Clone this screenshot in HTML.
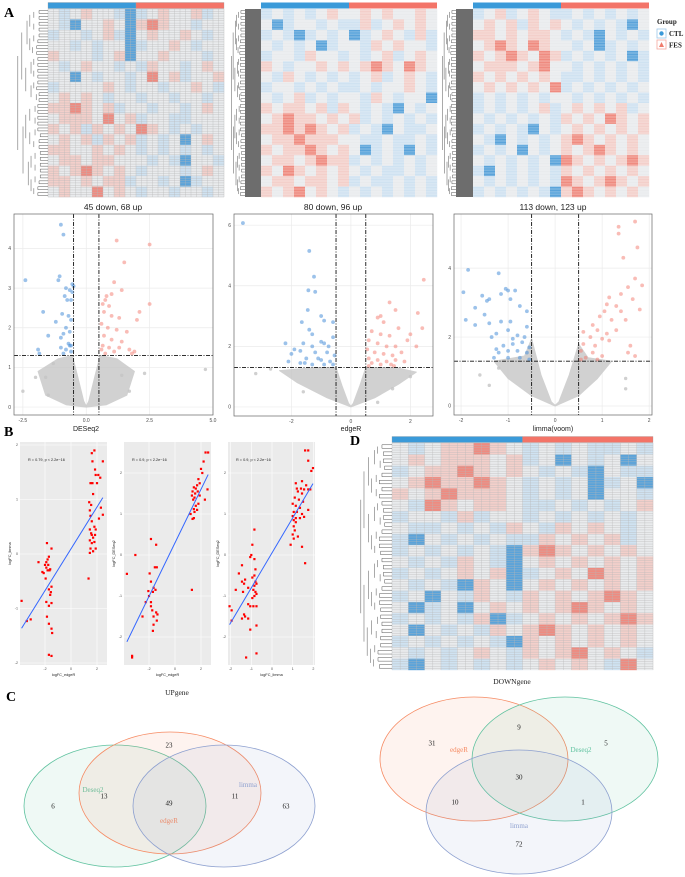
<!DOCTYPE html>
<html><head><meta charset="utf-8"><style>
html,body{margin:0;padding:0;background:#fff}
svg{display:block}
text{font-family:"Liberation Sans",sans-serif}
.serif{font-family:"Liberation Serif",serif}
</style></head><body>
<svg id="fig" width="685" height="877" viewBox="0 0 685 877" xmlns="http://www.w3.org/2000/svg">
<text class="serif" x="4" y="17" font-size="14" font-weight="bold">A</text>
<text class="serif" x="4" y="436" font-size="14" font-weight="bold">B</text>
<text class="serif" x="6" y="701" font-size="14" font-weight="bold">C</text>
<text class="serif" x="350" y="445" font-size="14" font-weight="bold">D</text>
<text x="113" y="210" font-size="8.5" text-anchor="middle" fill="#222">45 down, 68 up</text>
<text x="333" y="210" font-size="8.5" text-anchor="middle" fill="#222">80 down, 96 up</text>
<text x="553" y="210" font-size="8.5" text-anchor="middle" fill="#222">113 down, 123 up</text>
<text x="86" y="431" font-size="7" text-anchor="middle" fill="#222">DESeq2</text>
<text x="351" y="431" font-size="7" text-anchor="middle" fill="#222">edgeR</text>
<text x="553" y="431" font-size="7" text-anchor="middle" fill="#222">limma(voom)</text>
<text class="serif" x="177" y="695" font-size="7.5" text-anchor="middle" fill="#222">UPgene</text>
<text class="serif" x="512" y="684" font-size="7.5" text-anchor="middle" fill="#222">DOWNgene</text>
<g>
<text class="serif" x="657" y="24" font-size="7" font-weight="bold" fill="#222">Group</text>
<rect x="657" y="29" width="9" height="9" fill="#fff" stroke="#9cc8ea" stroke-width="0.8"/>
<circle cx="661.5" cy="33.5" r="2.2" fill="#3a9ad9"/>
<text class="serif" x="669" y="36" font-size="7" font-weight="bold" fill="#222">CTL</text>
<rect x="657" y="40" width="9" height="9" fill="#fff" stroke="#f5a89f" stroke-width="0.8"/>
<polygon points="661.5,42 664,47 659,47" fill="#f07c6c"/>
<text class="serif" x="669" y="47.5" font-size="7" font-weight="bold" fill="#222">FES</text>
</g>
</svg>
<script>
// ===== Heatmap data (coarse colour codes: B strong blue, b light blue, w white, p pink, R red) =====
const hm1Rows = ["wbwpwwbBbwpwwpbw","wbBwwpwBpRpwwbww","bwwbwpbBwpwwpwbw","wwbwbwwBbwwpwbww","pwwwbwpBwwpwwwbw","wbwpwwbwbpwwbwpw","wwBwbwwbwRwpbwwp","bwwwwpwbwwbwwpwb","wpwpwbwwbwwbwwbw","ppRpwpbwwbwwbwpw","wpppwRwpbwwbbwww","pwpbpwpwRpwbwbww","wpwpbpwpbwbwBwpw","ppwwpwpwbwbwbwbw","wppwppwwwbwbBwwb","pwpRpwpwbwwwbwpw","ppwpwppbwwbwBbww","wpwwRwpwbwwbwwbw"];
const hm2Rows = ["bwbwbwpwwpwpwwpw","wBbwwbwbbpbwpwpw","bwbBbwbwBbwpwbpb","wbwbwBbwwbpwpwwb","bwwbpwwbwbwpbwpw","pwbwwpwpwpRpwRpw","wbpwbwbwbwpbwpwb","bwwbwbwbbwbwwpwb","wbwpbwbwwbpwbwwB","pwppwpbpwbwbBwbw","wpRppwpwpbwbwbwb","ppRpRpwpbwbBwbbw","wppRpppwwbbwbbwb","pwppRpwpwBbwbBwb","wppwpRppbwbwbwbw","pwRpwpwpwbwbbwbw","wppwppwpbwbbwbwb","pwpRwpwbwbwbwbwb"];
const hm3Rows = ["bwpbwpwbbwbwbwbw","wpwpbpwpwbwbwbBw","ppwpwppwbwbBwbwb","wpRpwRpwwbwBbwbw","pwpRpwRpbwbwbwBb","wpppwpRwwbwbwbwb","pwpwpwpwbbwbwbwb","wpwpwpwRbwbwbwbw","bwbwbwbwwbwbwbwb","bwbwbwpbwpwpwpbw","wbwbwbwbpwpwRpwp","bwbwbBwbwpwpwpwp","wbBwbwbwpRpwpwpw","bwbwBwbwpwpRpwpw","wbwbwbwBRpwpwpRp","bBwbwbwbpwpwpwpw","wbwbwbwbRpwpRpwp","bwbwbwbBpRpwpwpw"];
const hmDRows = ["wbwppRpwbwbwbbwb","wpwpppwpbwBwbwBw","bwppRpwpwbwbBwbb","wpRppRpwbwbwBbwB","pwpRpppwbwbwBwwb","wbRpwppwbbwbwbwp","bwwbpbwwbwbwbwbw","wbbwbwbpwbpwpwbw","bBwbwbwbbpwpwpbw","bwbwbwbBpRpwpwpw","wbwbpwbBwpwpwpwp","bwbwpwpBbwpwRpwp","wbwbBpwBwpwpwpwp","bwBwbpwbpwpwpRpw","wBbwBwpwpwpRpwpw","bwbwbpBbwpwpwpRp","wBwbwbpwpRpwpwpw","bwbwbwbBpwpwpwpw","wbwbwpwbpwpRwpwb","bBwbwbwbwpwpwbRw"];
const groupSplit = [0.5, 0.5, 0.5, 0.5];

// ===== Volcano data [log2FC, -log10 p] =====
const v1Down = [[-1.0,4.6],[-0.9,4.35],[-2.4,3.2],[-1.05,3.3],[-1.1,3.2],[-0.8,3.0],[-0.65,2.95],[-0.55,3.1],[-0.5,3.05],[-0.55,2.9],[-0.85,2.8],[-0.75,2.7],[-0.6,2.7],[-1.7,2.4],[-0.95,2.35],[-0.7,2.3],[-0.6,2.2],[-1.2,2.15],[-0.8,2.0],[-0.65,1.9],[-1.0,1.75],[-0.7,1.6],[-1.9,1.45],[-1.0,1.5],[-0.8,1.45],[-0.6,1.4],[-0.9,1.35],[-1.85,1.35],[-0.65,1.55],[-1.5,1.8],[-0.9,1.85],[-0.6,1.55]];
const v1Up = [[1.2,4.2],[2.5,4.1],[1.5,3.65],[1.1,3.15],[1.4,2.95],[1.0,2.85],[0.8,2.8],[0.75,2.7],[0.65,2.6],[0.9,2.55],[2.5,2.6],[0.7,2.4],[1.0,2.3],[1.3,2.25],[0.6,2.1],[0.85,2.0],[1.2,1.95],[1.6,1.9],[0.7,1.8],[1.0,1.7],[1.4,1.65],[0.65,1.55],[0.9,1.5],[1.7,1.45],[1.1,1.4],[0.75,1.35],[1.9,1.4],[1.8,1.35],[0.6,1.45],[1.3,1.5],[2.1,2.4],[2.0,2.2]];
const v1Grey = [[-1.9,0.9],[-1.1,1.22],[-0.55,1.3],[-0.35,0.8],[-0.1,0.15],[0,0.02],[0.1,0.15],[0.35,0.8],[0.55,1.3],[1.2,1.22],[1.9,0.9],[1.6,0.3],[0.8,0.06],[0,0],[-0.8,0.06],[-1.6,0.3]];
const v1Out = [[-2.5,0.4],[-1.5,0.3],[1.4,0.8],[2.3,0.85],[4.7,0.95],[-1.3,1.1],[1.7,0.4],[-2.0,0.75],[-1.6,0.75]];
const v2Down = [[-3.63,6.07],[-1.4,5.15],[-1.24,4.3],[-1.43,3.85],[-1.2,3.8],[-1.45,3.2],[-1.0,3.0],[-0.9,2.85],[-0.6,2.8],[-1.65,2.8],[-1.4,2.55],[-1.3,2.4],[-2.2,2.1],[-1.9,1.9],[-1.7,1.85],[-1.0,2.15],[-0.75,2.0],[-0.6,2.3],[-1.6,2.1],[-1.3,2.0],[-0.9,2.1],[-2.0,1.75],[-1.2,1.8],[-0.8,1.8],[-0.55,1.7],[-1.5,1.6],[-1.1,1.6],[-0.7,1.5],[-1.7,1.45],[-1.3,1.4],[-0.9,1.4],[-0.6,1.4],[-2.1,1.5],[-1.0,1.55],[-1.55,1.45]];
const v2Up = [[2.45,4.2],[1.3,3.45],[1.5,3.2],[1.0,3.0],[2.25,3.1],[2.4,2.6],[0.9,2.95],[1.1,2.8],[1.6,2.6],[2.0,2.4],[0.7,2.5],[1.0,2.4],[1.3,2.35],[0.6,2.2],[0.9,2.1],[1.2,2.0],[1.5,2.0],[1.9,2.2],[0.55,1.9],[0.8,1.8],[1.1,1.75],[1.4,1.7],[1.7,1.8],[0.6,1.6],[0.9,1.55],[1.2,1.5],[1.5,1.55],[0.7,1.45],[1.0,1.4],[1.35,1.4],[0.6,1.35],[2.2,2.0],[1.8,1.5],[1.45,1.35]];
const v2Grey = [[-2.4,1.2],[-1.2,1.3],[-0.5,1.3],[-0.3,0.7],[-0.08,0.12],[0,0.02],[0.08,0.12],[0.3,0.7],[0.5,1.3],[1.5,1.3],[2.2,1.15],[1.6,0.75],[0.8,0.3],[0,0],[-0.8,0.3],[-1.8,0.8]];
const v2Out = [[-3.2,1.1],[-2.7,1.25],[1.4,0.6],[2.0,1.0],[-1.6,0.5],[0.9,0.15]];
const v3Down = [[-1.95,3.3],[-1.85,3.95],[-1.9,2.5],[-1.7,2.85],[-1.55,3.2],[-1.45,3.05],[-1.4,3.1],[-1.2,3.85],[-1.15,3.25],[-1.05,3.4],[-1.0,3.35],[-0.85,3.35],[-0.95,3.1],[-0.75,2.9],[-1.5,2.65],[-1.4,2.4],[-1.7,2.35],[-1.15,2.45],[-0.95,2.45],[-0.6,2.75],[-0.6,2.3],[-1.25,2.1],[-1.0,2.2],[-0.8,2.05],[-1.35,2.0],[-1.1,1.75],[-0.9,1.8],[-0.7,1.85],[-0.55,1.7],[-1.2,1.55],[-1.0,1.6],[-0.8,1.6],[-0.6,1.55],[-1.0,1.4],[-0.75,1.4],[-0.55,1.35],[-1.25,1.65],[-0.9,1.95],[-0.65,2.0],[-1.3,1.4]];
const v3Up = [[1.7,5.35],[1.35,5.2],[1.35,5.0],[1.75,4.6],[1.45,4.3],[1.7,3.7],[1.85,3.5],[1.55,3.45],[1.4,3.25],[1.65,3.1],[1.8,2.8],[1.15,3.15],[1.1,2.95],[1.3,2.9],[1.05,2.75],[0.95,2.6],[1.4,2.75],[1.2,2.5],[0.8,2.35],[1.5,2.5],[0.9,2.2],[1.1,2.1],[0.6,2.15],[1.3,2.2],[0.75,2.0],[1.0,1.95],[0.6,1.8],[0.85,1.75],[1.15,1.9],[0.55,1.6],[0.8,1.55],[1.0,1.45],[0.65,1.4],[1.6,1.75],[1.55,1.55],[1.7,1.45],[0.9,1.35],[0.55,1.35]];
const v3Grey = [[-1.3,1.3],[-0.65,1.45],[-0.5,1.95],[-0.3,0.9],[-0.08,0.12],[0,0.02],[0.08,0.12],[0.3,0.9],[0.5,1.8],[0.7,1.4],[1.2,1.3],[0.9,0.8],[0.5,0.3],[0,0],[-0.5,0.3],[-1.0,0.8]];
const v3Out = [[-1.6,0.9],[1.5,0.8],[-1.2,1.1],[1.5,0.5],[-1.4,0.6]];

// ===== Correlation scatter data [x, y] =====
const b1Pts = [[-3.8,-0.86],[-3.4,-1.23],[-3.1,-1.2],[-2.5,-0.15],[-2.2,-0.33],[-2.0,-0.2],[-1.9,-0.25],[-1.8,-0.1],[-1.7,-0.05],[-1.65,-0.3],[-1.8,-0.3],[-1.9,-0.15],[-1.75,-0.2],[-2.1,-0.35],[-1.6,-0.28],[-1.85,0.2],[-1.5,0.1],[-1.95,-0.45],[-1.7,-0.65],[-1.5,-0.6],[-1.9,-0.88],[-1.7,-0.95],[-1.5,-0.9],[-1.85,-1.15],[-1.7,-1.28],[-1.5,-1.37],[-1.45,-1.45],[-1.7,-1.85],[-1.5,-1.87],[-1.6,-0.75],[-1.55,-0.7],[1.6,1.85],[1.8,1.9],[1.65,1.7],[2.45,1.7],[1.85,1.55],[1.9,1.45],[2.1,1.45],[2.25,1.4],[1.5,1.3],[1.65,1.3],[2.0,1.3],[1.7,1.1],[1.4,0.95],[1.55,0.9],[1.45,0.8],[2.3,0.85],[2.45,0.72],[1.5,0.7],[2.15,0.65],[1.6,0.6],[1.8,0.5],[1.9,0.45],[1.45,0.45],[1.55,0.38],[1.7,0.3],[1.45,0.25],[1.6,0.2],[1.8,0.22],[1.5,0.1],[1.7,0.05],[1.9,0.1],[1.45,0.02],[1.35,-0.45],[1.6,0.35],[1.85,0.35]];
const b2Pts = [[-3.7,-0.46],[-3.05,0.0],[-3.3,-2.46],[-2.5,-1.5],[-2.25,-1.15],[-2.05,-0.88],[-1.85,0.39],[-1.45,0.25],[-1.95,-0.45],[-1.55,-0.3],[-1.4,-0.3],[-1.85,-0.65],[-1.65,-0.8],[-1.5,-0.85],[-1.7,-0.9],[-1.85,-1.15],[-1.75,-1.35],[-1.65,-1.5],[-1.45,-1.4],[-1.4,-1.6],[-1.65,-1.7],[-1.7,-1.85],[-1.35,-1.45],[-1.85,-1.25],[-2.0,-1.0],[-3.3,-2.5],[2.35,2.5],[2.55,2.5],[2.2,2.28],[2.0,2.1],[2.1,2.0],[1.8,1.85],[1.9,1.75],[1.7,1.7],[1.6,1.62],[1.45,1.65],[1.75,1.55],[1.35,1.55],[1.55,1.5],[1.9,1.45],[1.5,1.4],[1.4,1.35],[1.8,1.25],[2.3,1.35],[2.5,1.6],[1.3,1.45],[1.6,1.2],[1.45,1.12],[1.7,1.1],[1.5,1.05],[1.35,0.88],[1.45,0.9],[1.3,-0.85],[1.2,1.0]];
const b3Pts = [[-2.05,-1.25],[-1.95,-1.35],[-1.95,-1.6],[-1.75,-0.85],[-1.45,-0.65],[-1.6,-0.45],[-1.45,-0.25],[-1.35,-0.7],[-1.3,-0.6],[-1.4,-0.9],[-1.15,-0.8],[-1.05,-0.05],[-0.95,0.25],[-0.85,0.62],[-1.0,0.0],[-0.85,-0.1],[-0.8,-0.35],[-0.85,-0.5],[-0.95,-0.55],[-0.8,-0.65],[-0.75,-0.7],[-0.85,-0.75],[-0.9,-0.85],[-0.8,-0.9],[-0.75,-0.95],[-0.85,-1.0],[-0.95,-1.05],[-1.15,-1.2],[-1.05,-1.25],[-0.9,-1.25],[-0.75,-1.25],[-1.3,-1.5],[-1.15,-1.55],[-1.35,-1.45],[-1.05,-1.82],[-0.75,-1.72],[-1.25,-2.5],[-0.75,-2.4],[-1.45,-1.55],[1.6,2.55],[1.75,2.55],[1.75,2.3],[1.98,2.12],[1.9,2.05],[1.45,1.8],[1.15,1.75],[1.65,1.7],[1.2,1.62],[1.4,1.62],[1.55,1.6],[1.75,1.6],[1.85,1.6],[1.25,1.55],[1.45,1.5],[1.1,1.4],[1.3,1.35],[1.5,1.3],[1.0,1.25],[1.15,1.2],[1.35,1.15],[1.05,1.05],[1.2,1.05],[1.45,1.0],[1.0,0.95],[1.15,0.9],[1.05,0.85],[1.55,0.93],[1.75,1.1],[1.35,0.9],[1.05,0.7],[1.1,0.6],[1.0,0.5],[1.05,0.4],[1.25,0.45],[0.9,0.25],[1.45,0.2],[1.6,-0.2],[1.15,0.8]];
const b1XTicks = [-2, 0, 2];
const b1YTicks = [-2, -1, 0, 1, 2];
const b3XTicks = [-2, -1, 0, 1, 2];
const stats = ["R = 0.79, p < 2.2e\u221216", "R = 0.9, p < 2.2e\u221216", "R = 0.9, p < 2.2e\u221216"];

// ===== Venn data =====
const upSets = ["Deseq2", "edgeR", "limma"];
const upCounts = [6, 23, 63, 13, 11, 49];
const downSets = ["edgeR", "Deseq2", "limma"];
const downCounts = [31, 5, 72, 9, 10, 1, 30];

const NS = "http://www.w3.org/2000/svg";
const svg = document.getElementById("fig");
function mk(tag, attrs, parent) {
  const e = document.createElementNS(NS, tag);
  for (const k in attrs) e.setAttribute(k, attrs[k]);
  (parent || svg).appendChild(e);
  return e;
}
function grp(parent) { return mk("g", {}, parent); }
const COL = {B:"#5aa3da", b:"#cfe2f1", w:"#e9ebed", p:"#f3cfca", R:"#ef8b80"};

function drawHeatmap(rows, x0, y0, w, h, split, bordered, name) {
  const g = grp();
  
  
  const nr = rows.length, nc = rows[0].length;
  const cw = w / nc, ch = h / nr;
  for (let r = 0; r < nr; r++) for (let c = 0; c < nc; c++) {
    const cell = mk("rect", {x: x0 + c*cw, y: y0 + r*ch, width: cw + 0.2, height: ch + 0.2, fill: COL[rows[r][c]]}, g);
    
    
  }
  const lines = grp(g);
  if (bordered) {
    for (let y = y0; y <= y0 + h + 0.1; y += 2.35) mk("line", {x1: x0, x2: x0 + w, y1: y, y2: y, stroke: "#b8b8b8", "stroke-width": 0.35}, lines);
    const nsub = nc * 2;
    for (let c = 0; c <= nsub; c++) mk("line", {x1: x0 + c*w/nsub, x2: x0 + c*w/nsub, y1: y0, y2: y0 + h, stroke: "#b8b8b8", "stroke-width": 0.35}, lines);
    
  } else {
    for (let y = y0; y <= y0 + h; y += 1.6) mk("line", {x1: x0, x2: x0 + w, y1: y, y2: y, stroke: "#ffffff", "stroke-width": 0.3, opacity: 0.6}, lines);
    
  }
  
  const sx = x0 + w * split;
  const barB = mk("rect", {x: x0, y: y0 - 6.5, width: sx - x0, height: 6, fill: "#3a9ad9", stroke: bordered ? "#999" : "none", "stroke-width": 0.3}, g);
  
  
  const barR = mk("rect", {x: sx, y: y0 - 6.5, width: x0 + w - sx, height: 6, fill: "#f37468", stroke: bordered ? "#999" : "none", "stroke-width": 0.3}, g);
  
  
}

function drawDendro(x0, x1, y0, y1, depth, name, greyBlock) {
  const g = grp();
  
  
  if (greyBlock) mk("rect", {x: greyBlock[0], y: y0, width: greyBlock[1] - greyBlock[0], height: y1 - y0, fill: "#6d6d6d"}, g);
  const leafX = greyBlock ? greyBlock[0] : x1;
  function rec(a, b, lvl, xr) {
    const mid = (a + b) / 2;
    if (lvl >= depth) { mk("line", {x1: xr, x2: leafX, y1: mid, y2: mid, stroke: "#555", "stroke-width": 0.5}, g); return mid; }
    const step = (leafX - x0) / (depth + 1);
    const xc = xr + step * (0.6 + ((lvl * 7 + Math.round(a)) % 3) * 0.25);
    const m1 = rec(a, mid, lvl + 1, xc), m2 = rec(mid, b, lvl + 1, xc);
    mk("line", {x1: xc, x2: xc, y1: m1, y2: m2, stroke: "#555", "stroke-width": 0.5}, g);
    return mid;
  }
  rec(y0, y1, 0, x0);
}

drawHeatmap(hm1Rows, 48, 9, 176, 188, groupSplit[0], true, "heatmap-deseq2");
drawDendro(15, 48, 9, 197, 6, "dendrogram-deseq2", null);
drawHeatmap(hm2Rows, 261, 9, 176, 188, groupSplit[1], false, "heatmap-edger");
drawDendro(230, 261, 9, 197, 6, "dendrogram-edger", [245, 261]);
drawHeatmap(hm3Rows, 473, 9, 176, 188, groupSplit[2], false, "heatmap-limma");
drawDendro(441, 473, 9, 197, 6, "dendrogram-limma", [456, 473]);
drawHeatmap(hmDRows, 392, 443, 261, 227, groupSplit[3], true, "heatmap-downgene");
drawDendro(355, 392, 443, 670, 6, "dendrogram-downgene", null);

function drawVolcano(cfg) {
  const g = grp();
  
  
  const sx = v => cfg.px0 + (v - cfg.xd[0]) / (cfg.xd[1] - cfg.xd[0]) * (cfg.px1 - cfg.px0);
  const sy = v => cfg.py1 - (v - cfg.yd[0]) / (cfg.yd[1] - cfg.yd[0]) * (cfg.py1 - cfg.py0);
  mk("rect", {x: cfg.px0, y: cfg.py0, width: cfg.px1 - cfg.px0, height: cfg.py1 - cfg.py0, fill: "#fff"}, g);
  cfg.xt.forEach(t => {
    mk("line", {x1: sx(t), x2: sx(t), y1: cfg.py0, y2: cfg.py1, stroke: "#ebebeb", "stroke-width": 0.7}, g);
    const lb = mk("text", {x: sx(t), y: cfg.py1 + 7, "font-size": 5, "text-anchor": "middle", fill: "#4d4d4d"}, g);
    lb.textContent = cfg.xl(t);
    
    
  });
  cfg.yt.forEach(t => {
    mk("line", {x1: cfg.px0, x2: cfg.px1, y1: sy(t), y2: sy(t), stroke: "#ebebeb", "stroke-width": 0.7}, g);
    const lb = mk("text", {x: cfg.px0 - 3, y: sy(t) + 1.7, "font-size": 5, "text-anchor": "end", fill: "#4d4d4d"}, g);
    lb.textContent = t;
    
    
  });
  const cloud = mk("polygon", {points: cfg.grey.map(p => sx(p[0]) + "," + sy(p[1])).join(" "), fill: "#c9c9c9", stroke: "#c9c9c9", "stroke-width": 1, "stroke-linejoin": "round", opacity: 0.85}, g);
  
  
  cfg.out.forEach(p => {
    const c = mk("circle", {cx: sx(p[0]), cy: sy(p[1]), r: 1.7, fill: "#c4c4c4", opacity: 0.8}, g);
    
    
  });
  cfg.down.forEach(p => {
    const c = mk("circle", {cx: sx(p[0]), cy: sy(p[1]), r: 1.9, fill: "#4a8fd8", opacity: 0.55}, g);
    
    
  });
  cfg.up.forEach(p => {
    const c = mk("circle", {cx: sx(p[0]), cy: sy(p[1]), r: 1.9, fill: "#f47a6e", opacity: 0.5}, g);
    
    
  });
  [-cfg.fc, cfg.fc].forEach(v => {
    const l = mk("line", {x1: sx(v), x2: sx(v), y1: cfg.py0, y2: cfg.py1, stroke: "#111", "stroke-width": 0.9, "stroke-dasharray": "4,1.5,1,1.5"}, g);
    
    
  });
  const hl = mk("line", {x1: cfg.px0, x2: cfg.px1, y1: sy(1.3), y2: sy(1.3), stroke: "#111", "stroke-width": 0.9, "stroke-dasharray": "4,1.5,1,1.5"}, g);
  
  
  const fr = mk("rect", {x: cfg.px0, y: cfg.py0, width: cfg.px1 - cfg.px0, height: cfg.py1 - cfg.py0, fill: "none", stroke: "#666", "stroke-width": 0.7}, g);
  
  
}
drawVolcano({name: "volcano-deseq2", px0: 14, px1: 213, py0: 214, py1: 415, xd: [-2.85, 5.0], yd: [-0.2, 4.87], xt: [-2.5, 0, 2.5, 5], xl: t => t.toFixed(1), yt: [0,1,2,3,4], fc: 0.5, down: v1Down, up: v1Up, grey: v1Grey, out: v1Out});
drawVolcano({name: "volcano-edger", px0: 234, px1: 433, py0: 214, py1: 416, xd: [-3.93, 2.76], yd: [-0.3, 6.37], xt: [-2, 0, 2], xl: t => t, yt: [0,2,4,6], fc: 0.5, down: v2Down, up: v2Up, grey: v2Grey, out: v2Out});
drawVolcano({name: "volcano-limma", px0: 454, px1: 652, py0: 214, py1: 415, xd: [-2.15, 2.06], yd: [-0.26, 5.57], xt: [-2, -1, 0, 1, 2], xl: t => t, yt: [0,2,4], fc: 0.5, down: v3Down, up: v3Up, grey: v3Grey, out: v3Out});

function drawScatter(cfg) {
  const g = grp();
  
  
  const sx = v => cfg.zx + v * cfg.ux;
  const sy = v => cfg.zy - v * cfg.uy;
  const bg = mk("rect", {x: cfg.px0, y: cfg.py0, width: cfg.px1 - cfg.px0, height: cfg.py1 - cfg.py0, fill: "#ebebeb"}, g);
  
  
  cfg.xt.forEach(t => {
    mk("line", {x1: sx(t), x2: sx(t), y1: cfg.py0, y2: cfg.py1, stroke: "#fff", "stroke-width": 0.6}, g);
    const lb = mk("text", {x: sx(t), y: cfg.py1 + 5, "font-size": 3.6, "text-anchor": "middle", fill: "#4d4d4d"}, g);
    lb.textContent = t;
    
    
  });
  cfg.yt.forEach(t => {
    const y = sy(t);
    if (y < cfg.py0 - 1 || y > cfg.py1 + 1) return;
    mk("line", {x1: cfg.px0, x2: cfg.px1, y1: y, y2: y, stroke: "#fff", "stroke-width": 0.6}, g);
    const lb = mk("text", {x: cfg.px0 - 2, y: y + 1.2, "font-size": 3.6, "text-anchor": "end", fill: "#4d4d4d"}, g);
    lb.textContent = t;
    
    
  });
  cfg.pts.forEach(p => {
    const c = mk("rect", {x: sx(p[0]) - 1.1, y: sy(p[1]) - 1.1, width: 2.2, height: 2.2, fill: "#f00"}, g);
    
    
  });
  const n = cfg.pts.length;
  let mx = 0, my = 0;
  cfg.pts.forEach(p => { mx += p[0]; my += p[1]; });
  mx /= n; my /= n;
  let sxy = 0, sxx = 0;
  cfg.pts.forEach(p => { sxy += (p[0] - mx) * (p[1] - my); sxx += (p[0] - mx) * (p[0] - mx); });
  const b = sxy / sxx, a = my - b * mx;
  const xs = cfg.pts.map(p => p[0]);
  const xa = Math.min(...xs), xb = Math.max(...xs);
  const fit = mk("line", {x1: sx(xa), y1: sy(a + b * xa), x2: sx(xb), y2: sy(a + b * xb), stroke: "#3366ff", "stroke-width": 1}, g);
  
  
  const st = mk("text", {x: cfg.px0 + 8, y: cfg.py0 + 19, "font-size": 3.8, fill: "#222"}, g);
  st.textContent = cfg.stat;
  
  
  const xl = mk("text", {x: (cfg.px0 + cfg.px1) / 2, y: cfg.py1 + 11, "font-size": 3.8, "text-anchor": "middle", fill: "#222"}, g);
  xl.textContent = cfg.xlab;
  
  
  const yl = mk("text", {x: 0, y: 0, "font-size": 3.8, "text-anchor": "middle", fill: "#222", transform: "translate(" + (cfg.px0 - 9) + "," + ((cfg.py0 + cfg.py1) / 2) + ") rotate(-90)"}, g);
  yl.textContent = cfg.ylab;
  
  
}
drawScatter({name: "scatter-edger-limma", px0: 20, px1: 107, py0: 442, py1: 665, zx: 71, ux: 13, zy: 554, uy: 54.5, xt: b1XTicks, yt: b1YTicks, pts: b1Pts, stat: stats[0], xlab: "logFC_edgeR", ylab: "logFC_limma"});
drawScatter({name: "scatter-edger-deseq2", px0: 124, px1: 211, py0: 442, py1: 665, zx: 175, ux: 13, zy: 555, uy: 41, xt: b1XTicks, yt: b1YTicks, pts: b2Pts, stat: stats[1], xlab: "logFC_edgeR", ylab: "logFC_DESeq2"});
drawScatter({name: "scatter-limma-deseq2", px0: 228, px1: 315, py0: 442, py1: 665, zx: 272, ux: 20.7, zy: 555, uy: 41, xt: b3XTicks, yt: b1YTicks, pts: b3Pts, stat: stats[2], xlab: "logFC_limma", ylab: "logFC_DESeq2"});

function drawVenn(name, ells, labels, counts, countPos) {
  const g = grp();
  
  
  ells.forEach((e, i) => {
    const el = mk("ellipse", {cx: e[0], cy: e[1], rx: e[2], ry: e[3], fill: e[4], "fill-opacity": 0.1, stroke: e[4], "stroke-width": 0.8}, g);
    
    
    const t = mk("text", {x: e[5], y: e[6], "font-size": 7, "text-anchor": "middle", fill: e[4], class: "serif"}, g);
    t.textContent = labels[i];
    
    
  });
  counts.forEach((c, i) => {
    const t = mk("text", {x: countPos[i][0], y: countPos[i][1] + 2.5, "font-size": 7, "text-anchor": "middle", fill: "#222", class: "serif"}, g);
    t.textContent = c;
    
    
  });
}
drawVenn("venn-upgene",
  [[115, 806, 91, 61, "#5fc29f", 93, 792], [170, 793, 91, 61, "#f68a62", 169, 823], [224, 806, 91, 61, "#8c9fcf", 248, 787]],
  upSets, upCounts,
  [[53, 806], [169, 745], [286, 806], [104, 796], [235, 796], [169, 803]]);
drawVenn("venn-downgene",
  [[474, 759, 94, 62, "#f68a62", 459, 752], [565, 759, 93, 62, "#5fc29f", 581, 752], [519, 812, 93, 62, "#8c9fcf", 519, 828]],
  downSets, downCounts,
  [[432, 743], [606, 743], [519, 844], [519, 727], [455, 802], [583, 802], [519, 777]]);
</script>
</body></html>
